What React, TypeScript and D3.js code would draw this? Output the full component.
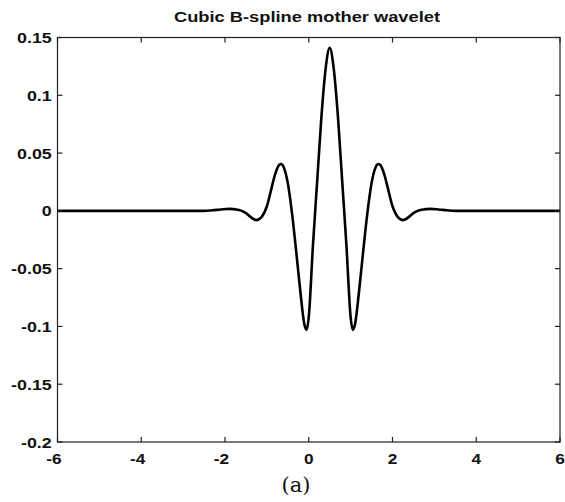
import React from 'react';
import * as d3 from 'd3';

const title = 'Cubic B-spline mother wavelet';
const caption = '(a)';

// wavelet samples
const xValues = [-6, -2.5, -2.3, -2.1, -1.9, -1.7, -1.6, -1.5, -1.4, -1.3, -1.25, -1.2, -1.1, -1.0, -0.9, -0.8, -0.7, -0.66, -0.6, -0.5, -0.4, -0.3, -0.2, -0.1, -0.05, 0.0, 0.1, 0.2, 0.3, 0.4, 0.5, 0.6, 0.7, 0.8, 0.9, 1.0, 1.05, 1.1, 1.2, 1.3, 1.4, 1.5, 1.6, 1.66, 1.7, 1.8, 1.9, 2.0, 2.1, 2.2, 2.25, 2.3, 2.4, 2.5, 2.6, 2.7, 2.9, 3.1, 3.3, 3.5, 6];
const yValues = [0, 0, 0.0005, 0.0012, 0.0017, 0.001, 0.0, -0.002, -0.005, -0.0075, -0.008, -0.0075, -0.004, 0.004, 0.018, 0.032, 0.04, 0.0405, 0.038, 0.024, -0.002, -0.035, -0.07, -0.099, -0.103, -0.092, -0.03, 0.025, 0.08, 0.122, 0.141, 0.122, 0.08, 0.025, -0.03, -0.092, -0.103, -0.099, -0.07, -0.035, -0.002, 0.024, 0.038, 0.0405, 0.04, 0.032, 0.018, 0.004, -0.004, -0.0075, -0.008, -0.0075, -0.005, -0.002, 0.0, 0.001, 0.0017, 0.0012, 0.0005, 0, 0];

const xTicks = [-6, -4, -2, 0, 2, 4, 6];
const xTickLabels = ['-6', '-4', '-2', '0', '2', '4', '6'];
const yTicks = [-0.2, -0.15, -0.1, -0.05, 0, 0.05, 0.1, 0.15];
const yTickLabels = ['-0.2', '-0.15', '-0.1', '-0.05', '0', '0.05', '0.1', '0.15'];

const W = 565;
const H = 502;
const left = 57.5;
const right = 560;
const top = 37.5;
const bottom = 442;
const tickLen = 5;
const font = '"Liberation Sans", Arial, Helvetica, sans-serif';
const stretch = 1.15;

export default function App() {
  const x = d3.scaleLinear().domain([-6, 6]).range([left, right]);
  const y = d3.scaleLinear().domain([-0.2, 0.15]).range([bottom, top]);

  const points = xValues.map((v, i) => [v, yValues[i]] as [number, number]);
  const line = d3.line<[number, number]>()
    .x(d => x(d[0]))
    .y(d => y(d[1]))
    .curve(d3.curveMonotoneX);

  return (
    <svg width={W} height={H} style={{ position: 'absolute', left: 0, top: 0, background: '#fff' }}>
      <rect x={0} y={0} width={W} height={H} fill="#fff" />

      {/* title */}
      <text x={307} y={22} textAnchor="middle" fontFamily={font} fontWeight="bold" fontSize={14}
        textLength={266} lengthAdjust="spacingAndGlyphs" fill="#111">{title}</text>

      {/* curve */}
      <path d={line(points) || ''} fill="none" stroke="#000" strokeWidth={2.6} strokeLinejoin="round" />

      {/* box */}
      <rect x={left} y={top} width={right - left} height={bottom - top} fill="none" stroke="#222" strokeWidth={1.2} />

      {/* x ticks */}
      {xTicks.map((t, i) => (
        <g key={'x' + i}>
          <line x1={x(t)} x2={x(t)} y1={bottom} y2={bottom - tickLen} stroke="#222" strokeWidth={1.2} />
          <line x1={x(t)} x2={x(t)} y1={top} y2={top + tickLen} stroke="#222" strokeWidth={1.2} />
          <g transform={`translate(${x(t) - (t < 0 ? 3.5 : 0)},463.5) scale(${stretch},1)`}>
            <text textAnchor="middle" fontFamily={font} fontWeight="bold" fontSize={15} fill="#111">{xTickLabels[i]}</text>
          </g>
        </g>
      ))}

      {/* y ticks */}
      {yTicks.map((t, i) => (
        <g key={'y' + i}>
          <line x1={left} x2={left + tickLen} y1={y(t)} y2={y(t)} stroke="#222" strokeWidth={1.2} />
          <line x1={right} x2={right - tickLen} y1={y(t)} y2={y(t)} stroke="#222" strokeWidth={1.2} />
          <g transform={`translate(51.7,${y(t) + 5.6}) scale(${stretch},1)`}>
            <text textAnchor="end" fontFamily={font} fontWeight="bold" fontSize={15.5} fill="#111">{yTickLabels[i]}</text>
          </g>
        </g>
      ))}

      {/* caption */}
      <text x={296} y={492} textAnchor="middle" fontFamily='"DejaVu Serif", serif' fontSize={21} fill="#111">{caption}</text>
    </svg>
  );
}
